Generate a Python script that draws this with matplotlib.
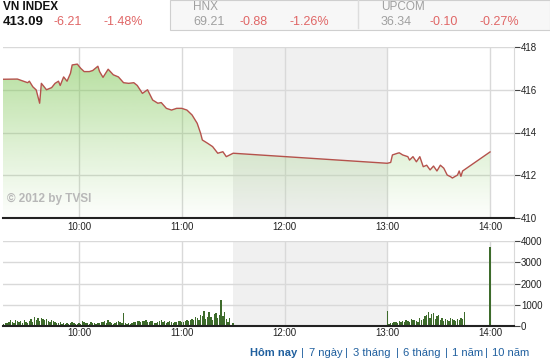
import numpy as np
import matplotlib
matplotlib.use("Agg")
import matplotlib.pyplot as plt
from matplotlib.patches import Rectangle

plt.rcParams['font.family'] = ['Liberation Sans', 'DejaVu Sans']

# Datos del indice (hora, valor)
horas = ["09:15", "09:24", "09:30", "09:31", "09:33", "09:35", "09:37", "09:38", "09:41", "09:44",
         "09:46", "09:48", "09:49", "09:51", "09:53", "09:55", "09:56", "09:59", "10:01", "10:03",
         "10:06", "10:08", "10:11", "10:12", "10:14", "10:17", "10:20", "10:23", "10:26", "10:29",
         "10:32", "10:34", "10:37", "10:40", "10:43", "10:46", "10:48", "10:51", "10:54", "10:57",
         "11:00", "11:03", "11:06", "11:09", "11:11", "11:12", "11:15", "11:18", "11:21", "11:24",
         "11:26", "11:28", "11:30",
         "13:00", "13:02", "13:03", "13:06", "13:07", "13:09", "13:12", "13:13", "13:15", "13:17",
         "13:19", "13:21", "13:23", "13:25", "13:27", "13:29", "13:31", "13:33", "13:35", "13:37",
         "13:38", "13:41", "13:42", "13:43", "13:44", "14:00"]
indice = [416.49, 416.50, 416.33, 416.40, 416.14, 415.99, 415.37, 416.30, 416.00, 416.10,
          416.30, 416.40, 416.20, 416.60, 416.40, 416.77, 417.16, 417.20, 417.00, 416.85,
          416.85, 416.90, 417.10, 416.85, 416.58, 416.96, 416.70, 416.60, 416.33, 416.30,
          416.33, 416.20, 415.83, 416.00, 415.52, 415.37, 415.40, 415.13, 415.05, 415.13,
          415.13, 415.05, 414.82, 414.43, 413.96, 413.65, 413.50, 413.34, 413.03, 413.10,
          412.87, 412.95, 413.03,
          412.56, 412.60, 412.95, 413.03, 413.05, 412.95, 412.87, 412.71, 412.87, 412.63,
          412.87, 412.40, 412.47, 412.25, 412.43, 412.20, 412.47, 412.33, 412.01, 411.93,
          411.87, 412.01, 412.20, 411.95, 412.20, 413.09]

# Volumen por minuto
vol_manana_inicio = "09:15"
vol_manana = [1030,
              80, 150, 120, 200, 260, 180, 150, 300, 220, 180, 250, 160, 300, 200, 150,
              250, 350, 200, 420, 300, 380, 250, 400, 320, 280, 350, 220, 180, 300, 250,
              200, 150, 120, 180, 100, 150, 90, 120, 100, 150, 200, 120, 100, 80, 150,
              100, 250, 180, 120, 150, 100, 200, 150, 130, 110, 150, 120, 200, 180, 250,
              150, 300, 200, 120, 100, 150, 200, 250, 180, 120, 620, 150, 100, 130, 100,
              120, 200, 180, 250, 230, 200, 240, 220, 260, 200, 180, 240, 220, 150, 130,
              200, 250, 300, 180, 220, 150, 200, 240, 180, 160, 200, 180, 220, 250, 180,
              200, 250, 300, 220, 280, 350, 300, 420, 380, 300, 500, 450, 700, 350, 420,
              650, 420, 300, 550, 620, 380, 500, 1220, 450, 650, 350, 200, 380, 0, 150]
vol_tarde_inicio = "13:00"
vol_tarde = [700, 80, 150, 120, 200, 180, 150, 250, 200, 220, 180, 300, 250, 200, 350, 280,
             300, 250, 200, 400, 300, 350, 450, 500, 650, 400, 550, 600, 350, 450, 500,
             300, 400, 250, 350, 300, 250, 400, 350, 300, 250, 350, 300, 400, 350, 640]
vol_cierre_hora = "14:00"
vol_cierre = 3700

ticks_x = ["10:00", "11:00", "12:00", "13:00", "14:00"]
ticks_precio = [410, 412, 414, 416, 418]
ticks_vol = [0, 1000, 2000, 3000, 4000]
enlaces = ["7 ngày", "3 tháng", "6 tháng", "1 năm", "10 năm"]


def minutos(h):
    hh, mm = h.split(":")
    return int(hh) * 60 + int(mm) - 540


t = np.array([minutos(h) for h in horas])
v = np.array(indice)
tx = [minutos(h) for h in ticks_x]
xmin, xmax = 15.6, 314

fig = plt.figure(figsize=(5.5, 3.64), dpi=100)
W, H = 550, 364


def ax_px(x0, y0, x1, y1):
    return fig.add_axes([x0 / W, 1 - y1 / H, (x1 - x0) / W, (y1 - y0) / H])


grid_c = "#d9d9d9"
almuerzo = (minutos("11:30"), minutos("13:00"))

# --- Grafico del indice ---
ax = ax_px(3, 47, 514, 218)
ax.set_xlim(xmin, xmax)
ax.set_ylim(410, 418)
ax.axvspan(*almuerzo, color="#f0f0f0", zorder=0, lw=0)

grad = np.linspace(0, 1, 256)
rgba = np.zeros((256, 1, 4))
rgba[:, 0, 0] = 130 / 255
rgba[:, 0, 1] = 200 / 255
rgba[:, 0, 2] = 90 / 255
rgba[:, 0, 3] = 0.02 + 0.62 * grad ** 1.1
img = ax.imshow(rgba, extent=[xmin, xmax, 410, 418], origin="lower", aspect="auto", zorder=1)
poly = ax.fill_between(t, v, 410, color="none", lw=0)
img.set_clip_path(poly.get_paths()[0], ax.transData)
ax.plot(t, v, color="#b5524c", lw=1.0, zorder=3)

ax.set_yticks(ticks_precio)
ax.set_xticks(tx)
ax.set_xticklabels(ticks_x)
ax.grid(True, color=grid_c, lw=1, zorder=0)
ax.set_axisbelow(True)
ax.yaxis.tick_right()
ax.tick_params(axis="y", length=4, width=0.8, color="#444444", labelsize=7, pad=1, labelcolor="#222222")
ax.tick_params(axis="x", length=0, labelsize=7, pad=3, labelcolor="#222222")
for s in ["top", "left"]:
    ax.spines[s].set_visible(False)
ax.spines["right"].set_color(grid_c)
ax.spines["bottom"].set_color("#222222")
ax.spines["bottom"].set_linewidth(1.5)
ax.text(18, 410.75, "\u00a9 2012 by TVSI", fontsize=8.5, fontweight="bold", color="#b8b8b8", zorder=4)

# --- Volumen ---
axv = ax_px(3, 241, 514, 326)
axv.set_xlim(xmin, xmax)
axv.set_ylim(0, 4000)
axv.axvspan(*almuerzo, color="#f0f0f0", zorder=0, lw=0)
tm = minutos(vol_manana_inicio) + np.arange(len(vol_manana))
tt = minutos(vol_tarde_inicio) + np.arange(len(vol_tarde))
verde = "#3d6b2b"
axv.bar(tm, vol_manana, width=0.8, color=verde, zorder=2)
axv.bar(tt, vol_tarde, width=0.8, color=verde, zorder=2)
axv.bar([minutos(vol_cierre_hora)], [vol_cierre], width=0.8, color=verde, zorder=2)
axv.set_yticks(ticks_vol)
axv.set_xticks(tx)
axv.set_xticklabels(ticks_x)
axv.grid(True, color=grid_c, lw=1, zorder=0)
axv.set_axisbelow(True)
axv.yaxis.tick_right()
axv.tick_params(axis="y", length=4, width=0.8, color="#444444", labelsize=7, pad=1, labelcolor="#222222")
axv.tick_params(axis="x", length=0, labelsize=7, pad=1.5, labelcolor="#222222")
for s in ["top", "left"]:
    axv.spines[s].set_visible(False)
axv.spines["right"].set_color(grid_c)
axv.spines["bottom"].set_color("#222222")
axv.spines["bottom"].set_linewidth(1.5)

# --- Cabecera ---
def txt(x, y, s, **kw):
    fig.text(x / W, 1 - y / H, s, va="center", ha="left", **kw)


rojo = "#e06666"
gris = "#a0a0a0"
fig.patches.append(Rectangle((170 / W, 1 - 30 / H), 380 / W, 30 / H, transform=fig.transFigure,
                             facecolor="#f7f7f7", edgecolor="#cfcfcf", lw=0.8))
fig.lines.append(plt.Line2D([358 / W, 358 / W], [1 - 28 / H, 1], transform=fig.transFigure,
                            color="#dddddd", lw=1))
txt(3, 7, "VN INDEX", fontsize=8.5, fontweight="bold", color="#111111")
txt(3, 22, "413.09", fontsize=9.5, fontweight="bold", color="#111111")
txt(53, 22, "-6.21", fontsize=9, color=rojo)
txt(103, 22, "-1.48%", fontsize=9, color=rojo)
txt(193, 7, "HNX", fontsize=8.5, color=gris)
txt(193, 22, "69.21", fontsize=9, color=gris)
txt(240, 22, "-0.88", fontsize=9, color=rojo)
txt(290, 22, "-1.26%", fontsize=9, color=rojo)
txt(381, 7, "UPCOM", fontsize=8.5, color=gris)
txt(381, 22, "36.34", fontsize=9, color=gris)
txt(430, 22, "-0.10", fontsize=9, color=rojo)
txt(480, 22, "-0.27%", fontsize=9, color=rojo)

# --- Enlaces ---
azul = "#1f5f9e"
txt(250, 353, "Hôm nay", fontsize=8, fontweight="bold", color=azul)
x_sep = [301, 345, 396, 445, 485]
x_enl = [309, 353, 403, 452, 492]
for xs, xe, e in zip(x_sep, x_enl, enlaces):
    txt(xs, 353, "|", fontsize=8, color=azul)
    txt(xe, 353, e, fontsize=8, color=azul)

fig.savefig("out.png", dpi=100)
